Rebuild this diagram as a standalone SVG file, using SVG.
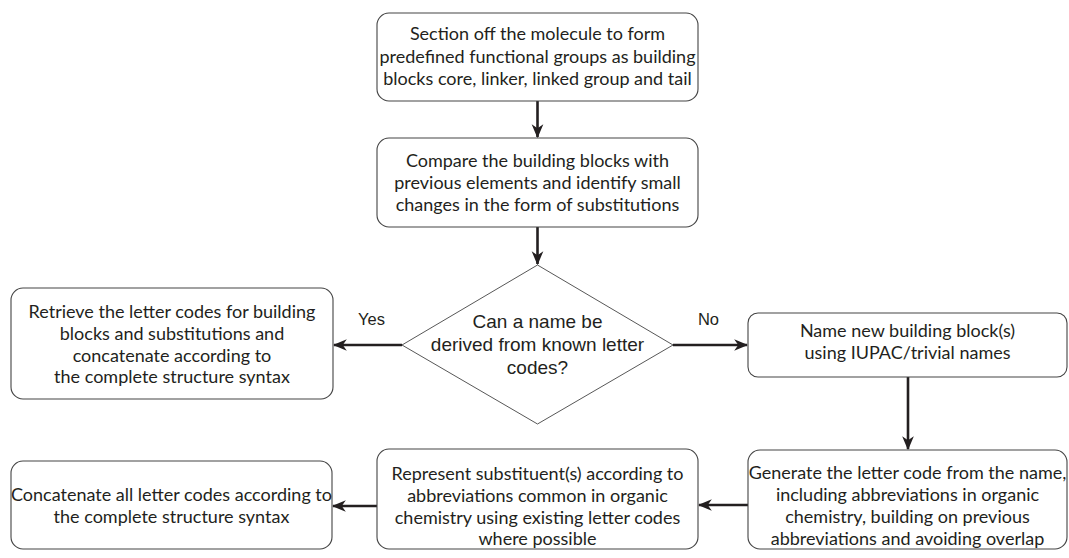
<svg xmlns="http://www.w3.org/2000/svg" width="1069" height="558" viewBox="0 0 1069 558">
<style>
.box{fill:#fff;stroke:#444;stroke-width:1.1}
.dia{fill:#fff;stroke:#444;stroke-width:0.9}
.t{font-family:Lato,"Open Sans",sans-serif;font-size:18px;fill:#231f20;text-anchor:middle}
.a{font-family:"Liberation Sans",Arial,sans-serif;font-size:19px;fill:#231f20;text-anchor:middle}
.lbl{font-family:"Liberation Sans",Arial,sans-serif;font-size:16.5px;fill:#231f20;text-anchor:middle}
.c{stroke:#231f20;stroke-width:2.6;fill:none;marker-end:url(#ah)}
</style>
<defs>
<marker id="ah" markerUnits="userSpaceOnUse" markerWidth="14" markerHeight="14" viewBox="0 0 12 12" refX="11" refY="6" orient="auto">
<path d="M0,1 L12,6 L0,11 L3.5,6 z" fill="#231f20"/>
</marker>
</defs>
<rect width="1069" height="558" fill="#fff"/>
<g id="connectors">
<line class="c" x1="537.5" y1="101" x2="537.5" y2="137"/>
<line class="c" x1="537.5" y1="227" x2="537.5" y2="264"/>
<line class="c" x1="402" y1="345" x2="334" y2="345"/>
<line class="c" x1="673" y1="345" x2="747" y2="345"/>
<line class="c" x1="908" y1="377" x2="908" y2="449"/>
<line class="c" x1="748" y1="505" x2="699" y2="505"/>
<line class="c" x1="377" y1="506" x2="333" y2="506"/>
</g>
<g id="n1">
<rect class="box" x="377" y="13" width="321" height="88" rx="12"/>
<text class="t" x="537.5" y="40">Section off the molecule to form</text>
<text class="t" x="537.5" y="62.5">predefined functional groups as building</text>
<text class="t" x="537.5" y="85">blocks core, linker, linked group and tail</text>
</g>
<g id="n2">
<rect class="box" x="377" y="138" width="321" height="89" rx="12"/>
<text class="t" x="537.5" y="167">Compare the building blocks with</text>
<text class="t" x="537.5" y="189">previous elements and identify small</text>
<text class="t" x="537.5" y="211">changes in the form of substitutions</text>
</g>
<g id="n3">
<polygon class="dia" points="537.5,265 673,345 537.5,424 402,345"/>
<text class="a" x="537.5" y="328">Can a name be</text>
<text class="a" x="537.5" y="351">derived from known letter</text>
<text class="a" x="537.5" y="374">codes?</text>
</g>
<g id="n4">
<rect class="box" x="11" y="288" width="322" height="111" rx="12"/>
<text class="t" x="172" y="318">Retrieve the letter codes for building</text>
<text class="t" x="172" y="340">blocks and substitutions and</text>
<text class="t" x="172" y="362">concatenate according to</text>
<text class="t" x="172" y="383">the complete structure syntax</text>
</g>
<g id="n5">
<rect class="box" x="748" y="313" width="319" height="64" rx="10"/>
<text class="t" x="907.5" y="337">Name new building block(s)</text>
<text class="t" x="907.5" y="359">using IUPAC/trivial names</text>
</g>
<g id="n6">
<rect class="box" x="748" y="450" width="319" height="99" rx="12"/>
<text class="t" x="907.5" y="479">Generate the letter code from the name,</text>
<text class="t" x="907.5" y="501">including abbreviations in organic</text>
<text class="t" x="907.5" y="523">chemistry, building on previous</text>
<text class="t" x="907.5" y="545">abbreviations and avoiding overlap</text>
</g>
<g id="n7">
<rect class="box" x="377" y="449" width="321" height="100" rx="12"/>
<text class="t" x="537.5" y="480">Represent substituent(s) according to</text>
<text class="t" x="537.5" y="502">abbreviations common in organic</text>
<text class="t" x="537.5" y="524">chemistry using existing letter codes</text>
<text class="t" x="537.5" y="545">where possible</text>
</g>
<g id="n8">
<rect class="box" x="11" y="461" width="321" height="88" rx="12"/>
<text class="t" x="171.5" y="501">Concatenate all letter codes according to</text>
<text class="t" x="171.5" y="523">the complete structure syntax</text>
</g>
<g id="labels">
<text class="lbl" x="371.5" y="325">Yes</text>
<text class="lbl" x="708.5" y="325">No</text>
</g>
</svg>
